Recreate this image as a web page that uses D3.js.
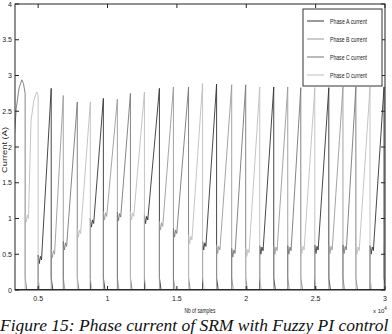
<!DOCTYPE html>
<html><head><meta charset="utf-8">
<script src="https://cdn.jsdelivr.net/npm/d3@7"></script>
<style>
html,body{margin:0;padding:0;background:#fff;}
svg{display:block;}
</style></head>
<body>
<svg id="c" width="392" height="334"></svg>
<script>
// ---- data (x in units of 10^4 samples, y in A) ----
const pulseBounds = [0.25, 0.406, 0.500, 0.594, 0.681, 0.782, 0.876, 0.970, 1.071, 1.165, 1.266, 1.374, 1.475, 1.584, 1.685, 1.786, 1.895, 1.996, 2.097, 2.198, 2.299, 2.393, 2.494, 2.595, 2.697, 2.790, 2.892, 2.993, 3.09];
const pulsePeaks  = [2.94, 2.77, 2.82, 2.72, 2.63, 2.63, 2.68, 2.67, 2.75, 2.77, 2.82, 2.84, 2.84, 2.89, 2.88, 2.87, 2.87, 2.84, 2.84, 2.84, 2.83, 2.83, 2.83, 2.84, 2.84, 2.84, 2.84, 2.88];
const pulseEnds   = [2.75, 2.70, 2.82, 2.72, 2.63, 2.63, 2.68, 2.67, 2.75, 2.77, 2.82, 2.84, 2.84, 2.89, 2.88, 2.87, 2.87, 2.84, 2.84, 2.84, 2.83, 2.83, 2.83, 2.84, 2.84, 2.84, 2.84, 2.88];
const peakFrac    = [0.846, 0.88, 1, 1, 1, 1, 1, 1, 1, 1, 1, 1, 1, 1, 1, 1, 1, 1, 1, 1, 1, 1, 1, 1, 1, 1, 1, 1];
const pulseTroughs= [0.50, 0.95, 0.37, 0.45, 0.56, 0.74, 0.88, 0.98, 0.97, 0.98, 0.93, 0.84, 0.74, 0.65, 0.56, 0.51, 0.46, 0.47, 0.50, 0.50, 0.50, 0.51, 0.51, 0.51, 0.51, 0.50, 0.50, 0.50];
const phaseOfPulse = [2, 3, 0, 1, 2, 3, 0, 1, 2, 3, 0, 1, 2, 3, 0, 1, 2, 3, 0, 1, 2, 3, 0, 1, 2, 3, 0, 1];
const phaseNames = ["Phase A current", "Phase B current", "Phase C current", "Phase D current"];
const phaseColors = ["#333333", "#9a9a9a", "#777777", "#bdbdbd"];
const yTicks = [0, 0.5, 1, 1.5, 2, 2.5, 3, 3.5, 4];
const yTickLabels = ["0", "0.5", "1", "1.5", "2", "2.5", "3", "3.5", "4"];
const xTicks = [0.5, 1, 1.5, 2, 2.5, 3];
const xTickLabels = ["0.5", "1", "1.5", "2", "2.5", "3"];
const xDomain = [0.333, 3];
const yDomain = [0, 4];
const xLabel = "Nb of samples";
const yLabel = "Current (A)";
const caption = "Figure 15:  Phase current of SRM with Fuzzy PI control";

// ---- layout ----
const svg = d3.select("#c");
const L = 15, R = 385, T = 4, B = 290;
const x = d3.scaleLinear().domain(xDomain).range([L, R]);
const y = d3.scaleLinear().domain(yDomain).range([B, T]);

svg.append("defs").append("clipPath").attr("id", "clip")
  .append("rect").attr("x", L).attr("y", T).attr("width", R - L).attr("height", B - T);

// build waveform for each phase
const phaseData = phaseNames.map(() => [[0.2, 0]]);
for (let i = 0; i < pulsePeaks.length; i++) {
  const t0 = pulseBounds[i], t1 = pulseBounds[i + 1];
  const tr = pulseTroughs[i], pk = pulsePeaks[i], en = pulseEnds[i];
  const pts = phaseData[phaseOfPulse[i]];
  pts.push([t0, 0], [t0, tr + 0.12], [t0 + 0.008, tr], [t0 + 0.016, tr + 0.1], [t0 + 0.024, tr + 0.05]);
  if (peakFrac[i] < 1) {
    const tp = t0 + (t1 - t0) * peakFrac[i];
    pts.push([tp - 0.04, pk - 0.4], [tp - 0.02, pk - 0.12], [tp, pk], [tp + 0.012, pk - 0.05]);
  } else {
    pts.push([t1, pk]);
  }
  pts.push([t1, en], [t1, 0.17], [t1 + 0.012, 0]);
}
phaseData.forEach(p => p.push([3.2, 0]));

const line = d3.line().x(d => x(d[0])).y(d => y(d[1]));
const g = svg.append("g").attr("clip-path", "url(#clip)");
phaseData.forEach((pts, k) => {
  g.append("path").attr("d", line(pts)).attr("fill", "none")
    .attr("stroke", phaseColors[k]).attr("stroke-width", 0.9);
});
// zero baseline darker (all phases overlapping)
g.append("path").attr("d", line([[xDomain[0], 0], [xDomain[1], 0]]))
  .attr("stroke", "#111").attr("stroke-width", 1.6).attr("fill", "none");

// ---- axes box with inward ticks ----
const tk = 4;
const axisG = svg.append("g").attr("stroke", "#222").attr("stroke-width", 1).attr("fill", "none");
axisG.append("rect").attr("x", L).attr("y", T).attr("width", R - L).attr("height", B - T);
yTicks.forEach(v => {
  axisG.append("line").attr("x1", L).attr("x2", L + tk).attr("y1", y(v)).attr("y2", y(v));
  axisG.append("line").attr("x1", R).attr("x2", R - tk).attr("y1", y(v)).attr("y2", y(v));
});
xTicks.forEach(v => {
  axisG.append("line").attr("x1", x(v)).attr("x2", x(v)).attr("y1", B).attr("y2", B - tk);
  axisG.append("line").attr("x1", x(v)).attr("x2", x(v)).attr("y1", T).attr("y2", T + tk);
});

const tf = "'Liberation Sans', Arial, sans-serif";
svg.append("g").selectAll("text").data(yTicks).join("text")
  .attr("x", L - 3).attr("y", d => y(d) + 2.5).attr("text-anchor", "end")
  .attr("font-family", tf).attr("font-size", 7).attr("fill", "#222")
  .text((d, i) => yTickLabels[i]);
svg.append("g").selectAll("text").data(xTicks).join("text")
  .attr("x", d => x(d)).attr("y", 301).attr("text-anchor", "middle")
  .attr("font-family", tf).attr("font-size", 7).attr("fill", "#222")
  .text((d, i) => xTickLabels[i]);

svg.append("text").attr("x", 200).attr("y", 313).attr("text-anchor", "middle")
  .attr("font-family", tf).attr("font-size", 7).attr("fill", "#222")
  .attr("textLength", 31).attr("lengthAdjust", "spacingAndGlyphs").text(xLabel);
const ex = svg.append("text").attr("x", 373).attr("y", 313)
  .attr("font-family", tf).attr("font-size", 6).attr("fill", "#222");
ex.append("tspan").text("x 10");
ex.append("tspan").attr("dy", -3).attr("font-size", 4.5).text("4");

svg.append("text").attr("transform", "translate(7,150) rotate(-90)").attr("text-anchor", "middle")
  .attr("font-family", tf).attr("font-size", 7).attr("fill", "#222")
  .attr("textLength", 46).attr("lengthAdjust", "spacingAndGlyphs").text(yLabel);

// ---- legend ----
const lg = svg.append("g");
lg.append("rect").attr("x", 303).attr("y", 9).attr("width", 79).attr("height", 77)
  .attr("fill", "#fff").attr("stroke", "#333").attr("stroke-width", 1);
const legY = [21, 39, 57, 75];
phaseNames.forEach((n, k) => {
  lg.append("line").attr("x1", 307).attr("x2", 324).attr("y1", legY[k]).attr("y2", legY[k])
    .attr("stroke", phaseColors[k]).attr("stroke-width", 1);
  lg.append("text").attr("x", 330).attr("y", legY[k] + 2.5)
    .attr("font-family", tf).attr("font-size", 6.5).attr("fill", "#222")
    .attr("textLength", 37).attr("lengthAdjust", "spacingAndGlyphs").text(n);
});

// ---- caption ----
svg.append("text").attr("x", 0).attr("y", 331)
  .attr("font-family", "'Liberation Serif', 'Times New Roman', serif")
  .attr("font-style", "italic").attr("font-size", 17.5).attr("fill", "#111")
  .text(caption);
</script>
</body></html>
